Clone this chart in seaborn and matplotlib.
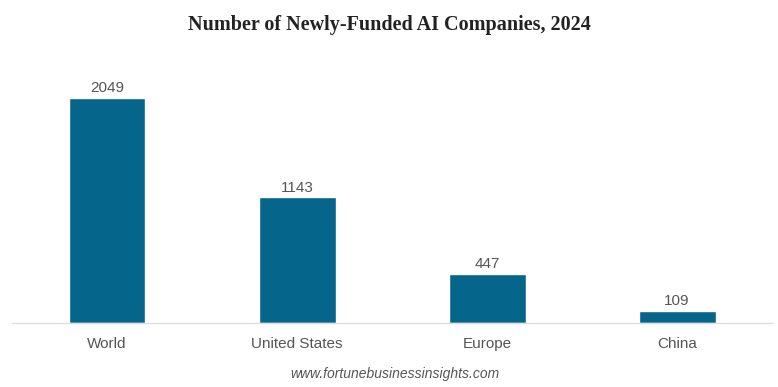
import matplotlib
matplotlib.use("Agg")
import matplotlib.pyplot as plt
import seaborn as sns
import pandas as pd

# Chart data
regions = ["World", "United States", "Europe", "China"]
companies = [2049, 1143, 447, 109]

df = pd.DataFrame({"region": regions, "companies": companies})

sns.set_style("white")
plt.rcParams["font.family"] = ["Liberation Sans", "DejaVu Sans"]

fig = plt.figure(figsize=(7.78, 3.87), dpi=100)
ax = fig.add_axes([0.0154, 0.1654, 0.977, 0.68])

sns.barplot(data=df, x="region", y="companies", color="#05658A",
            saturation=1, width=0.405, ax=ax)

# Value labels above bars
for p, v in zip(ax.patches, companies):
    ax.annotate(f"{v}", (p.get_x() + p.get_width() / 2, p.get_height()),
                xytext=(0, 2), textcoords="offset points",
                ha="center", va="bottom", fontsize=11, color="#555555")

ax.set_xlim(-0.5, 3.5)
ax.set_ylim(0, 2395)
ax.set_xlabel("")
ax.set_ylabel("")
ax.set_yticks([])
ax.tick_params(axis="x", length=0, labelsize=11, labelcolor="#555555", pad=10)
for s in ["top", "right", "left"]:
    ax.spines[s].set_visible(False)
ax.spines["bottom"].set_color("#dddddd")
ax.spines["bottom"].set_linewidth(1)

fig.text(0.5, 0.935, "Number of Newly-Funded AI Companies, 2024",
         ha="center", va="center", fontsize=14.5, fontweight="bold",
         family="Liberation Serif", color="#222222")
fig.text(0.508, 0.034, "www.fortunebusinessinsights.com", ha="center",
         va="center", fontsize=10, style="italic", color="#555555")

fig.savefig("out.png", dpi=100)
